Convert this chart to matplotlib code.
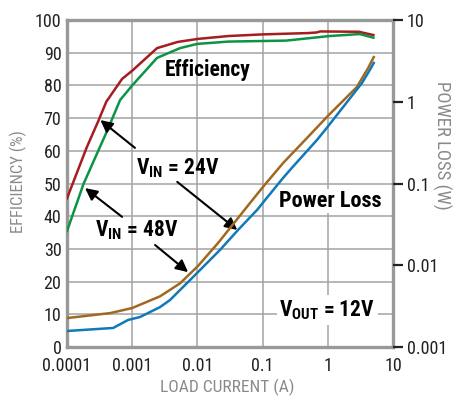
import matplotlib
matplotlib.use("Agg")
import matplotlib.pyplot as plt
from matplotlib import font_manager
import matplotlib.ticker as mticker

# efficiency, VIN = 24V (red) and 48V (green)
eff24_current = [0.0001, 0.0002, 0.0003, 0.0004, 0.0007, 0.001, 0.0024, 0.005,
                 0.01, 0.03, 0.1, 0.5, 0.68, 0.76, 3.0, 5.0]
eff24_pct = [45.5, 61, 69, 75, 82, 84.5, 91.4, 93.3,
             94.2, 95.1, 95.6, 96.0, 96.2, 96.5, 96.4, 95.4]

eff48_current = [0.0001, 0.00018, 0.00041, 0.00065, 0.001, 0.0024, 0.0054,
                 0.01, 0.03, 0.23, 1.07, 3.1, 5.0]
eff48_pct = [35.5, 50, 66, 75.5, 80, 88.4, 91.4,
             92.7, 93.4, 93.7, 95.1, 95.7, 94.6]

# power loss (W)
loss48_current = [0.0001, 0.00046, 0.001, 0.00267, 0.0054, 0.0102, 0.0207, 0.064,
                  0.101, 0.206, 0.447, 1.0, 2.78, 4.16, 5.06]
loss48_w = [0.00226, 0.0026, 0.0030, 0.00417, 0.0060, 0.0098, 0.0187, 0.0577,
            0.0906, 0.178, 0.340, 0.670, 1.51, 2.59, 3.52]

loss24_current = [0.0001, 0.00051, 0.00086, 0.00132, 0.00267, 0.0038, 0.00857,
                  0.0102, 0.0222, 0.0419, 0.082, 0.109, 0.206, 0.28, 0.68, 0.96,
                  3.33, 4.4, 5.06]
loss24_w = [0.00157, 0.00171, 0.00214, 0.00233, 0.00308, 0.00376, 0.00718,
            0.00826, 0.0154, 0.027, 0.0474, 0.0628, 0.117, 0.155, 0.34, 0.477,
            1.69, 2.44, 2.98]

x_ticks = [0.0001, 0.001, 0.01, 0.1, 1, 10]
x_labels = ["0.0001", "0.001", "0.01", "0.1", "1", "10"]
eff_ticks = list(range(0, 101, 10))
loss_ticks = [0.001, 0.01, 0.1, 1, 10]
loss_labels = ["0.001", "0.01", "0.1", "1", "10"]

RED = "#a51d21"
GREEN = "#0b9444"
BROWN = "#a0691f"
BLUE = "#1179b9"
GRID = "#a3a3a3"
LABEL_GRAY = "#8a8a8a"

# pick a condensed sans if one is installed
names = {f.name for f in font_manager.fontManager.ttflist}
FONT = "DejaVu Sans"
for cand in ["Nimbus Sans Narrow", "Liberation Sans Narrow", "Roboto Condensed",
             "Pragati Narrow", "Archivo Narrow", "PT Sans Narrow", "Arial Narrow",
             "Liberation Sans"]:
    if cand in names:
        FONT = cand
        break

plt.rcParams["font.family"] = [FONT, "DejaVu Sans"]
plt.rcParams["mathtext.fontset"] = "custom"
plt.rcParams["mathtext.rm"] = FONT + ":bold"
plt.rcParams["mathtext.bf"] = FONT + ":bold"

fig = plt.figure(figsize=(4.53, 3.96), dpi=100)
ax = fig.add_axes([0.148, 0.1237, 0.7196, 0.8258])

ax.set_xscale("log")
ax.set_xlim(0.0001, 10)
ax.set_ylim(0, 100)
ax.set_xticks(x_ticks)
ax.set_xticklabels(x_labels)
ax.xaxis.set_minor_locator(mticker.NullLocator())
ax.set_yticks(eff_ticks)
ax.tick_params(axis="both", length=0, labelsize=13, colors="#222222")
ax.tick_params(axis="x", pad=7.5)
ax.tick_params(axis="y", pad=4)
ax.grid(True, color=GRID, linewidth=1.1)
ax.set_axisbelow(True)
for sp in ax.spines.values():
    sp.set_color("#999999")
    sp.set_linewidth(2.4)

ax.set_xlabel("LOAD CURRENT (A)", fontsize=12.5, color=LABEL_GRAY, va="center")
ax.xaxis.set_label_coords(0.49, -0.122)
ax.set_ylabel("EFFICIENCY (%)", fontsize=12, color=LABEL_GRAY, va="center")
ax.yaxis.set_label_coords(-0.148, 0.505)

ax.plot(eff24_current, eff24_pct, color=RED, lw=1.8, zorder=3)
ax.plot(eff48_current, eff48_pct, color=GREEN, lw=1.8, zorder=3)

ax2 = ax.twinx()
ax2.set_yscale("log")
ax2.set_ylim(0.001, 10)
ax2.set_yticks(loss_ticks)
ax2.set_yticklabels(loss_labels)
ax2.yaxis.set_minor_locator(mticker.NullLocator())
ax2.tick_params(axis="y", direction="out", length=7, width=1.6, colors="#222222",
                labelsize=13, pad=3)
for sp in ax2.spines.values():
    sp.set_visible(False)
ax2.set_ylabel("POWER LOSS (W)", fontsize=13.5, color=LABEL_GRAY, rotation=270,
               va="center")
ax2.yaxis.set_label_coords(1.150, 0.618)

ax2.plot(loss48_current, loss48_w, color=BROWN, lw=1.8, zorder=3)
ax2.plot(loss24_current, loss24_w, color=BLUE, lw=1.8, zorder=3)

word = dict(fontweight="bold", color="black", ha="center", va="center")
ax.text(0.0145, 84.7, "Efficiency", fontsize=15.5, **word)
ax.text(1.08, 44.6, "Power Loss", fontsize=16,
        bbox=dict(facecolor="white", edgecolor="none", pad=1), **word)
ax.text(0.0049, 54.7, r"$\mathbf{V_{IN}}$ = 24V", fontsize=15.5, **word)
ax.text(0.00118, 35.8, r"$\mathbf{V_{IN}}$ = 48V", fontsize=15.5, **word)
ax.text(0.98, 11.3, r"$\mathbf{V_{OUT}}$ = 12V", fontsize=15.5,
        bbox=dict(facecolor="white", edgecolor="none", pad=2), **word)

arrow = dict(arrowstyle="-|>", mutation_scale=18, lw=1.5, color="black",
             shrinkA=0, shrinkB=0)
ax.annotate("", xy=(0.000324, 69.4), xytext=(0.0011, 60.9), arrowprops=arrow)
ax.annotate("", xy=(0.0408, 35.8), xytext=(0.0049, 50.5), arrowprops=arrow)
ax.annotate("", xy=(0.000189, 48.6), xytext=(0.000698, 39.8), arrowprops=arrow)
ax.annotate("", xy=(0.00718, 22.9), xytext=(0.00224, 31.2), arrowprops=arrow)

fig.savefig("out.png", dpi=100)
